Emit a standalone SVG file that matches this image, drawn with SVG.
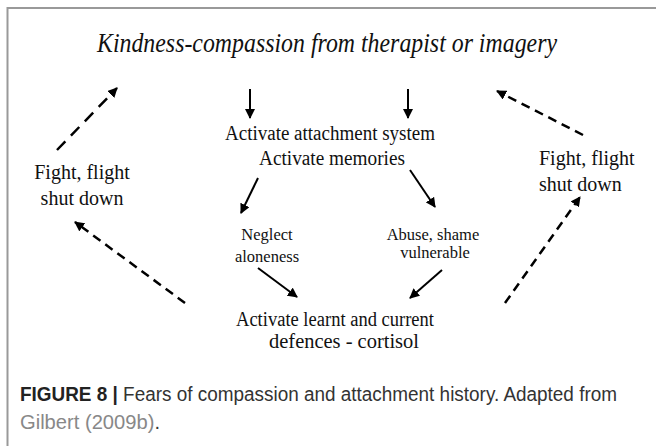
<svg xmlns="http://www.w3.org/2000/svg" width="656" height="446" viewBox="0 0 656 446">
<defs>
<style>
.s{font-family:"Liberation Serif","Times New Roman",serif;fill:#111;}
.cap{font-family:"Liberation Sans",Arial,sans-serif;font-size:19.5px;fill:#333;}
.solid{stroke:#000;stroke-width:2;fill:none;}
.dash{stroke:#000;stroke-width:2.5;fill:none;stroke-dasharray:9 6;}
.dashl{stroke:#000;stroke-width:2.5;fill:none;stroke-dasharray:12 8;}
</style>
<marker id="ah" viewBox="0 0 10 10" refX="9" refY="5" markerWidth="5" markerHeight="5" orient="auto" markerUnits="strokeWidth">
<path d="M0,0 L10,5 L0,10 z" fill="#000"/>
</marker>
<marker id="ahd" viewBox="0 0 10 10" refX="9" refY="5" markerWidth="4" markerHeight="4" orient="auto" markerUnits="strokeWidth">
<path d="M0,0 L10,5 L0,10 z" fill="#000"/>
</marker>
</defs>
<rect width="656" height="446" fill="#fff"/>
<path d="M7.5,446 V8 H656" fill="none" stroke="#999" stroke-width="2"/>

<g id="title"><text class="s" x="327" y="52" font-size="27" font-style="italic" text-anchor="middle" textLength="460" lengthAdjust="spacingAndGlyphs">Kindness-compassion from therapist or imagery</text></g>
<g id="activate"><text class="s" x="330" y="140" font-size="20" text-anchor="middle" textLength="210" lengthAdjust="spacingAndGlyphs">Activate attachment system</text>
<text class="s" x="332" y="165" font-size="20" text-anchor="middle" textLength="146" lengthAdjust="spacingAndGlyphs">Activate memories</text></g>
<g id="fight-left"><text class="s" x="82" y="179" font-size="20" text-anchor="middle">Fight, flight</text>
<text class="s" x="82" y="205" font-size="20" text-anchor="middle">shut down</text></g>
<g id="fight-right"><text class="s" x="539" y="165" font-size="20">Fight, flight</text>
<text class="s" x="539" y="191" font-size="20">shut down</text></g>
<g id="neglect"><text class="s" x="267" y="240" font-size="16.5" text-anchor="middle">Neglect</text>
<text class="s" x="267" y="262" font-size="16.5" text-anchor="middle">aloneness</text></g>
<g id="abuse"><text class="s" x="433" y="240" font-size="16.5" text-anchor="middle">Abuse, shame</text>
<text class="s" x="435" y="258" font-size="16.5" text-anchor="middle">vulnerable</text></g>
<g id="defences"><text class="s" x="335" y="326" font-size="20" text-anchor="middle" textLength="198" lengthAdjust="spacingAndGlyphs">Activate learnt and current</text>
<text class="s" x="344" y="348" font-size="20" text-anchor="middle" textLength="150" lengthAdjust="spacingAndGlyphs">defences - cortisol</text></g>

<g id="connectors">
<line class="solid" x1="250" y1="89" x2="250" y2="118" marker-end="url(#ah)"/>
<line class="solid" x1="408" y1="89" x2="408" y2="118" marker-end="url(#ah)"/>
<line class="solid" x1="258" y1="178" x2="241" y2="213" marker-end="url(#ah)"/>
<line class="solid" x1="410" y1="170" x2="435" y2="207" marker-end="url(#ah)"/>
<line class="solid" x1="258" y1="268" x2="297" y2="297" marker-end="url(#ah)"/>
<line class="solid" x1="442" y1="270" x2="410" y2="298" marker-end="url(#ah)"/>
<line class="dashl" x1="57" y1="150" x2="117" y2="88" marker-end="url(#ahd)"/>
<line class="dash" x1="583" y1="135" x2="497" y2="91" marker-end="url(#ahd)"/>
<line class="dash" x1="185" y1="303" x2="75" y2="222" marker-end="url(#ahd)"/>
<line class="dash" x1="505" y1="303" x2="580" y2="197" marker-end="url(#ahd)"/>
</g>

<g id="caption">
<text class="cap" x="20" y="401" textLength="597" lengthAdjust="spacingAndGlyphs"><tspan font-weight="bold" fill="#222">FIGURE 8</tspan> <tspan font-weight="bold" fill="#222">|</tspan> Fears of compassion and attachment history. Adapted from</text>
<text class="cap" x="20" y="429" textLength="140" lengthAdjust="spacingAndGlyphs"><tspan fill="#888">Gilbert (2009b)</tspan>.</text>
</g>
</svg>
